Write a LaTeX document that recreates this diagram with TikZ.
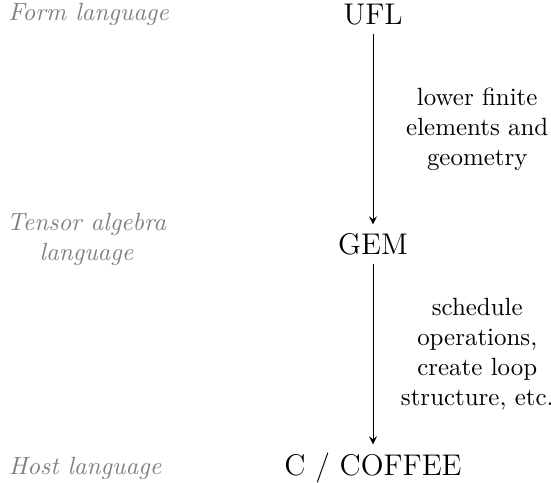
\documentclass[tikz,border=0pt]{standalone}
\usepackage{xcolor}
\usetikzlibrary{arrows}
\tikzstyle{lang} = [text=gray, font=\itshape, align=center]
\tikzstyle{repr} = [font=\large]
\tikzstyle{pass} = [midway, xshift=1.47cm, align=center]
\tikzstyle{step arrow} = [->, >=stealth, thin]
\begin{document}
\begin{tikzpicture}
	\useasboundingbox (0,0) rectangle (7.77,-6.81);
	% representations
	\node[repr] (ufl) at (5.26,-0.21) {UFL};
	\node[repr] (gem) at (5.26,-3.44) {GEM};
	\node[repr] (coffee) at (5.26,-6.60) {C / COFFEE};
	% levels
	\node[lang] (formlang) at (1.25,-0.21) {Form language};
	\node[lang] (tensorlang) at (1.22,-3.38) {Tensor algebra\\language};
	\node[lang] (hostlang) at (1.20,-6.60) {Host language};
	% passes
	\draw[step arrow] (ufl) -- node[pass] {lower finite\\elements and\\geometry} (gem);
	\draw[step arrow] (gem) -- node[pass] {schedule\\operations,\\create loop\\structure, etc.} (coffee);
\end{tikzpicture}
\end{document}
